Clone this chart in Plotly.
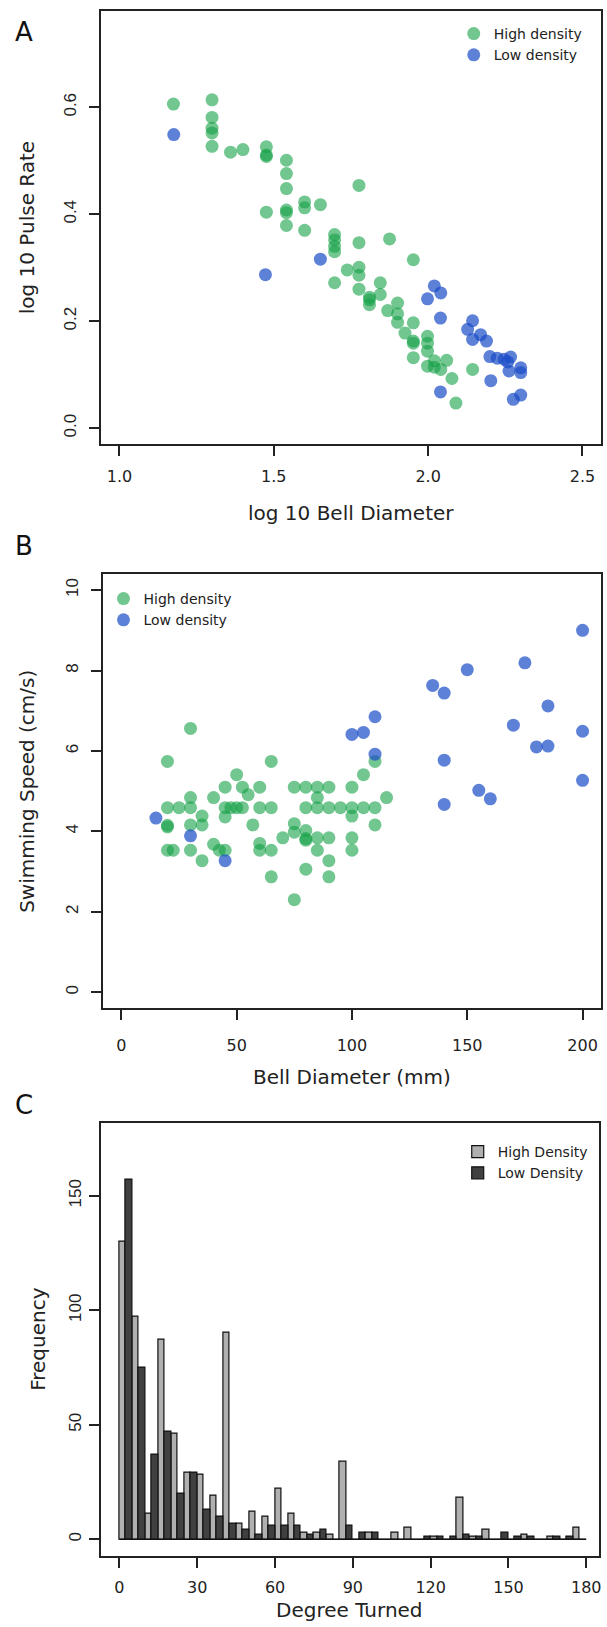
import plotly.graph_objects as go

# ---------------- Panel A data (log10 bell diameter vs log10 pulse rate)
a_high_x = [1.175, 1.30, 1.30, 1.30, 1.30, 1.30, 1.36, 1.40, 1.476, 1.476, 1.476,
            1.541, 1.541, 1.541, 1.541, 1.541, 1.541, 1.476, 1.60, 1.60, 1.651, 1.60,
            1.776, 1.697, 1.697, 1.697, 1.697, 1.776, 1.875, 1.952, 1.738, 1.776,
            1.776, 1.697, 1.776, 1.845, 1.845, 1.81, 1.81, 1.81, 1.869, 1.901,
            1.901, 1.901, 1.952, 1.925, 1.952, 1.952, 1.998, 1.998, 1.998, 1.952,
            2.02, 2.06, 1.998, 2.02, 2.041, 2.077, 2.09, 2.144]
a_high_y = [0.606, 0.614, 0.581, 0.561, 0.552, 0.527, 0.516, 0.521, 0.526, 0.511, 0.508,
            0.501, 0.476, 0.448, 0.408, 0.403, 0.379, 0.404, 0.423, 0.412, 0.418, 0.370,
            0.454, 0.362, 0.352, 0.340, 0.330, 0.347, 0.354, 0.315, 0.296, 0.301,
            0.286, 0.272, 0.260, 0.272, 0.250, 0.245, 0.240, 0.231, 0.220, 0.234,
            0.214, 0.198, 0.197, 0.178, 0.163, 0.159, 0.172, 0.159, 0.144, 0.132,
            0.126, 0.127, 0.116, 0.114, 0.110, 0.093, 0.047, 0.110]
a_low_x = [1.176, 1.473, 1.651, 2.020, 2.041, 1.998, 2.040, 2.144, 2.128, 2.144,
           2.170, 2.189, 2.200, 2.224, 2.246, 2.267, 2.258, 2.262, 2.300, 2.300,
           2.203, 2.040, 2.276, 2.300]
a_low_y = [0.549, 0.287, 0.316, 0.266, 0.253, 0.242, 0.206, 0.201, 0.185, 0.166,
           0.175, 0.163, 0.134, 0.131, 0.129, 0.133, 0.124, 0.107, 0.113, 0.104,
           0.089, 0.068, 0.054, 0.062]

# ---------------- Panel B data (bell diameter vs swimming speed)
b_high_x = [30, 20, 65, 110, 50, 105, 45, 60, 75, 80, 85, 90, 100, 52.5, 55, 40, 30, 85, 115,
            20, 25, 30, 45, 47.5, 50, 52.5, 60, 65, 80, 85, 90, 95, 100, 105, 110,
            35, 45, 100, 20, 20, 30, 35, 57, 75, 110, 75, 80, 80, 80, 100, 70, 85, 90,
            40, 42.5, 45, 20, 22.5, 30, 60, 60, 65, 85, 100, 35, 90, 80, 65, 90, 75]
b_high_y = [6.56, 5.74, 5.74, 5.74, 5.41, 5.41, 5.10, 5.10, 5.10, 5.10, 5.10, 5.10, 5.10, 5.10, 4.91,
            4.84, 4.84, 4.84, 4.84,
            4.59, 4.59, 4.59, 4.59, 4.59, 4.59, 4.59, 4.59, 4.59, 4.59, 4.59, 4.59, 4.59, 4.59, 4.59, 4.59,
            4.38, 4.36, 4.38, 4.15, 4.11, 4.16, 4.16, 4.16, 4.19, 4.16, 3.98, 4.02, 3.82, 3.78, 3.84,
            3.84, 3.84, 3.84, 3.68, 3.53, 3.53, 3.53, 3.53, 3.53, 3.70, 3.53, 3.53, 3.53, 3.53,
            3.27, 3.27, 3.06, 2.87, 2.87, 2.30]
b_low_x = [200, 175, 150, 135, 140, 185, 170, 200, 180, 185, 110, 100, 105, 110, 140,
           200, 155, 160, 140, 15, 30, 45]
b_low_y = [9.0, 8.19, 8.02, 7.63, 7.44, 7.12, 6.64, 6.49, 6.10, 6.12, 6.85, 6.41, 6.46, 5.92,
           5.77, 5.27, 5.02, 4.81, 4.67, 4.33, 3.89, 3.27]

# ---------------- Panel C data (histogram of degree turned, 5-degree bins)
bin_width = 5
bin_starts = list(range(0, 180, bin_width))
c_high = [130, 97, 11, 87, 46, 29, 28, 19, 90, 7, 12, 10,
          22, 11, 3, 3, 2, 34, 0, 3, 0, 3, 5, 0,
          1, 0, 18, 1, 4, 0, 0, 2, 0, 1, 0, 5]
c_low = [157, 75, 37, 47, 20, 29, 13, 10, 7, 4, 2, 6,
         6, 6, 2, 4, 0, 6, 3, 3, 0, 0, 0, 1,
         1, 1, 2, 1, 0, 3, 1, 1, 0, 1, 1, 0]
bin_centers = [s + bin_width / 2 for s in bin_starts]

W, H = 607, 1627
GREEN = "rgba(20,160,70,0.6)"
BLUE = "rgba(25,75,200,0.7)"
LIGHT = "#b0b0b0"
DARK = "#404040"
TITLE_FONT = dict(family="DejaVu Sans", size=20, color="#222")
XTICK_FONT = dict(family="DejaVu Sans", size=16, color="#222")
YTICK_FONT = dict(family="Liberation Sans", size=17, color="#222")
LEGEND_FONT = dict(family="DejaVu Sans", size=14, color="#222")


def px(xp):
    return xp / W


def py(yp):
    return 1 - yp / H


fig = go.Figure()

fig.add_trace(go.Scatter(x=a_high_x, y=a_high_y, mode="markers", name="High density",
                         marker=dict(size=13, color=GREEN, line=dict(width=0)),
                         xaxis="x", yaxis="y", legend="legend"))
fig.add_trace(go.Scatter(x=a_low_x, y=a_low_y, mode="markers", name="Low density",
                         marker=dict(size=13, color=BLUE, line=dict(width=0)),
                         xaxis="x", yaxis="y", legend="legend"))

fig.add_trace(go.Scatter(x=b_high_x, y=b_high_y, mode="markers", name="High density",
                         marker=dict(size=13, color=GREEN, line=dict(width=0)),
                         xaxis="x2", yaxis="y2", legend="legend2"))
fig.add_trace(go.Scatter(x=b_low_x, y=b_low_y, mode="markers", name="Low density",
                         marker=dict(size=13, color=BLUE, line=dict(width=0)),
                         xaxis="x2", yaxis="y2", legend="legend2"))

fig.add_trace(go.Bar(x=bin_centers, y=c_high, name="High Density", width=bin_width / 2,
                     marker=dict(color=LIGHT, line=dict(color="#111", width=1.2)),
                     offsetgroup="h", xaxis="x3", yaxis="y3", legend="legend3"))
fig.add_trace(go.Bar(x=bin_centers, y=c_low, name="Low Density", width=bin_width / 2,
                     marker=dict(color=DARK, line=dict(color="#111", width=1.2)),
                     offsetgroup="l", xaxis="x3", yaxis="y3", legend="legend3"))

# baseline under the histogram bars (spans the bins)
fig.add_shape(type="line", xref="x3", yref="y3", x0=bin_starts[0], x1=bin_starts[-1] + bin_width,
              y0=0, y1=0, line=dict(color="#111", width=1.2))

axis_common = dict(showline=True, mirror=True, linecolor="#222", linewidth=1.5,
                   ticks="outside", ticklen=10, tickwidth=1.5, tickcolor="#222",
                   showgrid=False, zeroline=False)

fig.update_layout(
    width=W, height=H, margin=dict(l=0, r=0, t=0, b=0),
    paper_bgcolor="white", plot_bgcolor="white",
    barmode="group", bargap=0, bargroupgap=0,
    xaxis=dict(axis_common, domain=[px(101.4), px(604)], range=[0.94, 2.56],
               tickvals=[1.0, 1.5, 2.0, 2.5], tickformat=".1f", tickfont=XTICK_FONT,
               anchor="y", ticklabelstandoff=7),
    yaxis=dict(axis_common, domain=[py(444.3), py(11)], range=[-0.03, 0.78],
               tickvals=[0.0, 0.2, 0.4, 0.6], tickformat=".1f", tickfont=YTICK_FONT,
               tickangle=-90, anchor="x", ticklabelstandoff=6),
    xaxis2=dict(axis_common, domain=[px(103.4), px(604)], range=[-8, 208],
                tickvals=[0, 50, 100, 150, 200], tickfont=XTICK_FONT, anchor="y2",
                ticklabelstandoff=12),
    yaxis2=dict(axis_common, domain=[py(1008.3), py(574)], range=[-0.4, 10.4],
                tickvals=[0, 2, 4, 6, 8, 10], tickfont=YTICK_FONT, tickangle=-90,
                anchor="x2", ticklabelstandoff=6),
    xaxis3=dict(axis_common, domain=[px(101), px(601.7)], range=[-7.3, 184.8],
                tickvals=[0, 30, 60, 90, 120, 150, 180], tickfont=XTICK_FONT, anchor="y3",
                ticklabelstandoff=6),
    yaxis3=dict(axis_common, domain=[py(1556), py(1122.7)], range=[-7.3, 181.9],
                tickvals=[0, 50, 100, 150], tickfont=YTICK_FONT, tickangle=-90,
                anchor="x3", ticklabelstandoff=1),
    legend=dict(x=px(456), y=py(18), xanchor="left", yanchor="top",
                bgcolor="rgba(0,0,0,0)", itemwidth=30, tracegroupgap=0, font=LEGEND_FONT),
    legend2=dict(x=px(104), y=py(583), xanchor="left", yanchor="top",
                 bgcolor="rgba(0,0,0,0)", itemwidth=30, tracegroupgap=0, font=LEGEND_FONT),
    legend3=dict(x=px(460), y=py(1136), xanchor="left", yanchor="top",
                 bgcolor="rgba(0,0,0,0)", itemwidth=30, tracegroupgap=0,
                 traceorder="normal", font=LEGEND_FONT),
)

annotations = [
    ("A", 24, 32, 0, dict(family="DejaVu Sans", size=26, color="#111")),
    ("B", 24, 546, 0, dict(family="DejaVu Sans", size=26, color="#111")),
    ("C", 24, 1105, 0, dict(family="DejaVu Sans", size=26, color="#111")),
    ("log 10 Pulse Rate", 27, 227.5, -90, TITLE_FONT),
    ("log 10 Bell Diameter", 352.7, 513, 0, TITLE_FONT),
    ("Swimming Speed (cm/s)", 27, 791, -90, TITLE_FONT),
    ("Bell Diameter (mm)", 353.7, 1077, 0, TITLE_FONT),
    ("Frequency", 38, 1339, -90, TITLE_FONT),
    ("Degree Turned", 351, 1610, 0, TITLE_FONT),
]
for text, xp, yp, ang, font in annotations:
    fig.add_annotation(text=text, x=px(xp), y=py(yp), xref="paper", yref="paper",
                       showarrow=False, textangle=ang, font=font,
                       xanchor="center", yanchor="middle")

fig.write_html("out.html",
               config={"displayModeBar": False},
               post_script="document.body.style.margin='0';"
                           "document.body.style.overflow='hidden';"
                           "document.documentElement.style.overflow='hidden';")
